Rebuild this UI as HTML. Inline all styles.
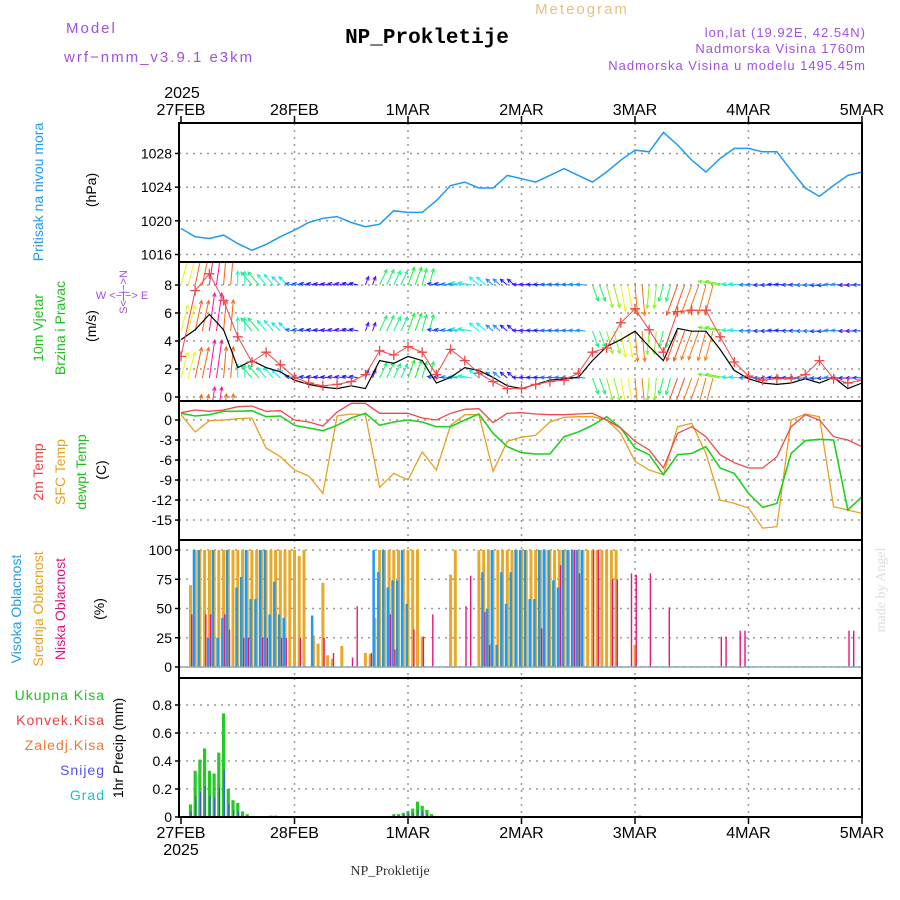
<!DOCTYPE html>
<html><head><meta charset="utf-8"><style>
body{margin:0;background:#fff;}
svg{display:block;font-family:"Liberation Sans",sans-serif;}
</style></head><body>
<svg id="c" width="900" height="900" viewBox="0 0 900 900">
<text x="66" y="33" fill="#a050e0" font-size="15" letter-spacing="2">Model</text>
<text x="64" y="62" fill="#a050e0" font-size="15" letter-spacing="2">wrf−nmm_v3.9.1 e3km</text>
<text x="427" y="43" fill="#000" font-size="21" font-weight="bold" text-anchor="middle" font-family="Liberation Mono,monospace">NP_Prokletije</text>
<text x="582" y="14" fill="#e8c080" font-size="15" text-anchor="middle" letter-spacing="2">Meteogram</text>
<text x="866" y="37" fill="#a050e0" font-size="13" text-anchor="end" letter-spacing="1">lon,lat (19.92E, 42.54N)</text>
<text x="866" y="53" fill="#a050e0" font-size="13" text-anchor="end" letter-spacing="1">Nadmorska Visina 1760m</text>
<text x="866" y="70" fill="#a050e0" font-size="13" text-anchor="end" letter-spacing="1">Nadmorska Visina u modelu 1495.45m</text>
<text x="182" y="98" font-size="16" text-anchor="middle">2025</text>
<text x="390" y="875" font-size="14" text-anchor="middle" font-family="Liberation Serif,serif" fill="#333">NP_Prokletije</text>
<text transform="translate(885,590) rotate(-90)" font-size="14" fill="#d8e0d8" text-anchor="middle" font-family="Liberation Serif,serif">made by Angel</text>

<g font-size="14">
<text transform="translate(43,192) rotate(-90)" fill="#1e9bf0" text-anchor="middle">Pritisak na nivou mora</text>
<text transform="translate(96,190) rotate(-90)" text-anchor="middle">(hPa)</text>
<text transform="translate(43,328) rotate(-90)" fill="#20c020" text-anchor="middle">10m Vjetar</text>
<text transform="translate(65,328) rotate(-90)" fill="#20c020" text-anchor="middle">Brzina i Pravac</text>
<text transform="translate(96,326) rotate(-90)" text-anchor="middle">(m/s)</text>
<text transform="translate(127,292) rotate(-90)" fill="#a050e0" font-size="11" text-anchor="middle">S&lt;−|−&gt;N</text>
<text x="122" y="299" fill="#a050e0" font-size="11" text-anchor="middle">W &lt;−|−&gt; E</text>
<text transform="translate(43,472) rotate(-90)" fill="#f04040" text-anchor="middle">2m Temp</text>
<text transform="translate(65,472) rotate(-90)" fill="#e8a020" text-anchor="middle">SFC Temp</text>
<text transform="translate(86,472) rotate(-90)" fill="#20c020" text-anchor="middle">dewpt Temp</text>
<text transform="translate(106,470) rotate(-90)" text-anchor="middle">(C)</text>
<text transform="translate(21,609) rotate(-90)" fill="#1e9bf0" text-anchor="middle">Visoka Oblacnost</text>
<text transform="translate(43,609) rotate(-90)" fill="#e8a020" text-anchor="middle">Srednja Oblacnost</text>
<text transform="translate(65,609) rotate(-90)" fill="#e0157a" text-anchor="middle">Niska Oblacnost</text>
<text transform="translate(104,609) rotate(-90)" text-anchor="middle">(%)</text>
<text x="105" y="700" fill="#20c020" text-anchor="end" letter-spacing="1">Ukupna Kisa</text>
<text x="105" y="725" fill="#f04040" text-anchor="end" letter-spacing="1">Konvek.Kisa</text>
<text x="105" y="750" fill="#f07830" text-anchor="end" letter-spacing="1">Zaledj.Kisa</text>
<text x="105" y="775" fill="#5050f0" text-anchor="end" letter-spacing="1">Snijeg</text>
<text x="105" y="800" fill="#20c0c0" text-anchor="end" letter-spacing="1">Grad</text>
<text transform="translate(123,748) rotate(-90)" text-anchor="middle">1hr Precip (mm)</text>
</g>
</svg>
<script>
// ---- data (3-hourly, 49 points from 27FEB 00 to 5MAR 00) ----
const dayLabels=["27FEB","28FEB","1MAR","2MAR","3MAR","4MAR","5MAR"];
const pressure=[1019.1,1018.1,1017.9,1018.3,1017.3,1016.5,1017.2,1018.1,1018.9,1019.8,1020.3,1020.5,1019.8,1019.3,1019.6,1021.2,1021.0,1021.0,1022.4,1024.2,1024.6,1023.9,1023.9,1025.4,1025.0,1024.6,1025.4,1026.2,1025.4,1024.6,1025.8,1027.2,1028.4,1028.2,1030.5,1029.0,1027.2,1025.8,1027.4,1028.6,1028.6,1028.2,1028.2,1026.0,1023.9,1022.9,1024.2,1025.4,1025.8];
const pressureTicks=[1016,1020,1024,1028];
const windSpeed=[4.1,4.8,5.9,4.8,2.1,2.6,2.1,1.8,1.2,0.9,0.7,0.6,0.8,0.6,2.6,2.4,2.9,2.6,1.0,1.4,2.1,1.9,1.4,0.8,0.6,0.9,1.2,1.3,1.4,2.6,3.6,4.1,4.7,3.6,2.6,4.9,4.7,4.7,3.4,1.9,1.3,1.0,0.9,1.0,1.3,1.0,1.4,0.6,1.0];
const windGust=[2.9,7.6,8.8,6.9,4.3,2.5,3.2,2.3,1.4,1.0,0.8,0.9,1.1,1.6,3.3,3.0,3.6,3.2,1.6,3.4,2.6,1.7,1.1,0.6,0.6,0.9,1.1,1.2,1.7,3.2,3.5,5.3,6.3,4.8,3.2,6.1,6.2,6.2,4.3,2.5,1.5,1.2,1.3,1.3,1.6,2.6,1.3,1.0,1.2];
const windDir=[15,12,8,5,0,-40,-40,-45,-80,-80,-82,-80,-78,20,25,25,20,15,-80,-82,-80,-50,-50,-50,-85,-85,-85,-85,-85,160,165,170,175,185,195,200,200,195,-80,-85,-88,-90,-85,-88,-90,-92,-85,-90,-88];
const windTicks=[0,2,4,6,8];
const temp2m=[1.1,1.5,1.3,1.5,2.0,2.1,1.3,1.4,0,-0.3,-0.9,1.2,2.5,2.5,1.0,1.0,1.0,0.3,0,1.0,1.6,1.7,-0.4,1.0,1.1,0.9,0.8,0.8,0.9,1.0,0,-1.2,-3.2,-4.5,-7.2,-2,-1,-2.5,-5.2,-6.4,-7.2,-7.2,-5.5,-1,0.8,0,-2.5,-3,-4];
const tempDew=[1.0,0.6,0.8,1.3,1.3,1.4,0.5,0.6,-0.8,-1.2,-1.6,-0.8,0.3,1.0,-0.8,-0.3,0,-0.3,-1,-1,0,0.9,-2,-4,-4.9,-5.1,-5.1,-2.5,-1.8,-0.8,0.5,-1.2,-4.2,-5.2,-8.2,-5.2,-5,-4,-7.2,-8,-11,-13.1,-12.5,-5,-3.1,-2.9,-3,-13.5,-11.5];
const tempSfc=[0.8,-1.8,-0.1,0,0.2,0.3,-4.2,-5.5,-7.5,-8.4,-11,0.6,0.9,0.8,-10.1,-8,-9,-4.8,-7.5,-0.8,0.8,0.8,-7.7,-3.2,-2.6,-2.3,-0.3,0.4,0.5,0.5,0,-2,-6.2,-7.5,-8.2,-1,-0.5,-5,-12,-12.5,-13.2,-16.2,-16,0,0.9,0.5,-13,-13.5,-14];
const tempTicks=[0,-3,-6,-9,-12,-15];
// ---- hourly cloud data (sparse: hour index, percent) ----
const midHours=[2,3,4,5,6,7,8,9,10,11,12,13,14,15,16,17,18,19,20,21,22,23,24,25,26,28,29,30,31,32,34,39,40,41,42,43,44,45,46,47,48,49,50,51,57,58,63,64,65,66,67,68,69,70,71,72,73,74,75,76,77,78,79,80,81,82,83,84,85,86,87,88,89,90,91,92,96];
const midVals=[70,100,100,100,100,100,100,100,100,100,100,100,100,100,100,100,100,100,100,100,100,100,100,95,100,27,20,72,10,7,18,12,11,42,100,100,100,100,100,100,100,100,100,26,79,100,100,100,100,100,100,100,100,100,100,100,100,100,100,100,100,100,100,100,100,100,100,100,100,100,100,100,100,100,100,100,19];
const highHours=[3,4,6,7,8,9,10,12,13,14,15,16,17,18,19,20,21,22,28,41,42,43,44,45,46,47,48,64,65,66,67,68,69,70,71,72,73,74,75,76,77,78,79,80,81,82,83,84,85];
const highVals=[100,100,25,100,25,42,100,68,77,100,58,58,100,100,45,73,45,42,44,100,81,100,68,74,74,100,54,81,50,100,19,81,54,81,100,100,100,58,58,100,100,100,74,68,100,100,100,100,100];
const lowHours=[2,5,6,9,10,13,14,17,18,21,22,25,30,32,36,37,40,44,45,49,51,53,60,61,64,65,76,80,83,84,87,88,91,92,95,96,99,103,114,115,118,119,141,142];
const lowVals=[45,45,45,45,32,25,25,25,25,25,25,25,25,12,8,52,12,45,15,32,26,45,52,78,47,19,33,87,100,80,100,100,75,75,80,79,80,51,26,26,31,31,31,31];
const cloudTicks=[0,25,50,75,100];
// ---- hourly precipitation (sparse) ----
const precipHours=[2,3,4,5,6,7,8,9,10,11,12,13,14,19,20,45,46,47,48,49,50,51,52,53,97];
const precipTotal=[0.09,0.33,0.41,0.49,0.33,0.31,0.46,0.74,0.2,0.12,0.10,0.04,0.02,0.01,0.01,0.02,0.02,0.03,0.04,0.06,0.11,0.08,0.05,0.02,0.01];
const precipSnow=[0.04,0.15,0.18,0.22,0.15,0.14,0.21,0.34,0.09,0.05,0.04,0,0,0,0,0.01,0.01,0.02,0.02,0.03,0.05,0.04,0.02,0.01,0];
const precipTicks=[0,0.2,0.4,0.6,0.8];

const NS="http://www.w3.org/2000/svg";
const svg=document.getElementById('c');
const X0=181, DAY=113.5, L=179, R=862;
const X=d=>X0+d*DAY;
const Xh=h=>X0+h*DAY/24;
const panels={
 p:{t:123,b:262,y:v=>254.5-(v-1016)*8.42},
 w:{t:262,b:401,y:v=>397-v*14},
 t:{t:401,b:540,y:v=>420-v*6.67},
 c:{t:540,b:678,y:v=>667-v*1.17},
 r:{t:678,b:817,y:v=>817-v*140}
};
function el(tag,attrs,parent){const e=document.createElementNS(NS,tag);for(const k in attrs)e.setAttribute(k,attrs[k]);(parent||svg).appendChild(e);return e;}

const defs=el('defs',{});
for(const k in panels){const P=panels[k];const cp=el('clipPath',{id:'clip-'+k},defs);el('rect',{x:L,y:P.t,width:R-L,height:P.b-P.t},cp);}

function grid(k,ticks,fmt){
 const P=panels[k];
 const g=el('g',{});
 
 
 for(let d=1;d<6;d++){el('line',{x1:X(d),x2:X(d),y1:P.t,y2:P.b,stroke:'#999','stroke-dasharray':'2,5','stroke-width':1.5},g);}
 ticks.forEach(v=>{
  const y=P.y(v);
  el('line',{x1:L,x2:R,y1:y,y2:y,stroke:'#999','stroke-dasharray':'2,5','stroke-width':1.5},g);
  el('line',{x1:L-4,x2:L,y1:y,y2:y,stroke:'#000','stroke-width':1.5},g);
  const t=el('text',{x:L-7,y:y+5,'font-size':14,'text-anchor':'end'},g);
  t.textContent=fmt?fmt(v):v;
  
  
 });
}
grid('p',pressureTicks);
grid('w',windTicks);
grid('t',tempTicks);
grid('c',cloudTicks);
grid('r',precipTicks,v=>v===0?'0':v.toFixed(1));

function line(k,arr,color,w,name){
 const P=panels[k];
 const pts=arr.map((v,i)=>X(i*0.125).toFixed(1)+','+P.y(v).toFixed(1)).join(' ');
 const pl=el('polyline',{points:pts,fill:'none',stroke:color,'stroke-width':w,'clip-path':'url(#clip-'+k+')'});
 
 
}
line('p',pressure,'#1e9bf0',1.5,'pressure-line');

// wind arrows
const wg=el('g',{'clip-path':'url(#clip-w)'});


const rows=[285,331,378,425];
function spdColor(s){let h=285-s*55;if(h<0)h+=360;return 'hsl('+h.toFixed(0)+',90%,52%)';}
windDir.forEach((dir,i)=>{
 const s=windSpeed[i];
 const len=Math.max(9,s*6.5);
 const a=dir*Math.PI/180;
 const dx=Math.sin(a)*len, dy=-Math.cos(a)*len;
 const col=spdColor(s);
 for(let sub=0;sub<2;sub++){
  const x=X(i*0.125)+sub*DAY/16;
  if(x>R)continue;
  rows.forEach(y0=>{
   const x2=x+dx,y2=y0+dy;
   const ar=el('g',{stroke:col,'stroke-width':1,fill:'none'},wg);
   
   
   el('line',{x1:x,y1:y0,x2:x2,y2:y2},ar);
   const ha=0.45,hl=4;
   el('path',{d:`M${x2-hl*Math.sin(a-ha)},${y2+hl*Math.cos(a-ha)}L${x2},${y2}L${x2-hl*Math.sin(a+ha)},${y2+hl*Math.cos(a+ha)}`},ar);
  });
 }
});
line('w',windSpeed,'#000',1.2,'wind-speed-line');
line('w',windGust,'#f04848',1,'wind-gust-line');
const gg=el('g',{stroke:'#f04848','stroke-width':1.3,'clip-path':'url(#clip-w)'});


windGust.forEach((v,i)=>{
 const x=X(i*0.125),y=panels.w.y(v);
 const m=el('path',{d:`M${x-5},${y}h10M${x},${y-5}v10`},gg);
 
 
});

line('t',tempSfc,'#e8a020',1.3,'sfc-temp-line');
line('t',tempDew,'#20d020',1.6,'dewpoint-line');
line('t',temp2m,'#f04848',1.3,'temp-2m-line');

function bars(k,hours,vals,color,w,off,name){
 const P=panels[k];
 const g=el('g',{fill:color,'clip-path':'url(#clip-'+k+')'});
 
 
 hours.forEach((h,i)=>{
  const y=P.y(vals[i]);
  const b=el('rect',{x:(Xh(h)+off).toFixed(1),y:y.toFixed(1),width:w,height:Math.max(0,P.y(0)-y).toFixed(1)},g);
  
  
 });
}
bars('c',midHours,midVals,'#e8a828',3,-1.5,'mid-cloud');
bars('c',highHours,highVals,'#1e9bf0',2.5,-2.5,'high-cloud');
bars('c',lowHours,lowVals,'#e8157a',1.4,0.5,'low-cloud');
el('line',{x1:L,x2:R,y1:panels.c.y(0),y2:panels.c.y(0),stroke:'#8ab','stroke-width':1.5});

bars('r',precipHours,precipTotal,'#28c828',3.2,-1.6,'total-precip');
bars('r',precipHours,precipSnow,'#4a4af0',1.2,0,'snow-precip');
el('line',{x1:L,x2:R,y1:817,y2:817,stroke:'#000','stroke-width':1,'stroke-dasharray':'4,2'});

for(const k in panels){const P=panels[k];
 const r=el('rect',{x:L,y:P.t,width:R-L,height:P.b-P.t,fill:'none',stroke:'#000','stroke-width':2});
 
 
}
dayLabels.forEach((lab,i)=>{
 const x=X(i);
 el('line',{x1:x,x2:x,y1:116,y2:123,stroke:'#000','stroke-width':1.5});
 el('line',{x1:x,x2:x,y1:817,y2:824,stroke:'#000','stroke-width':1.5});
 const t=el('text',{x:x,y:115,'font-size':16,'text-anchor':'middle'});
 t.textContent=lab;
 
 
 const b=el('text',{x:x,y:838,'font-size':16,'text-anchor':'middle'});
 b.textContent=lab;
 
 
});
const yb=el('text',{x:X(0),y:855,'font-size':16,'text-anchor':'middle'});
yb.textContent='2025';


</script>
</body></html>
